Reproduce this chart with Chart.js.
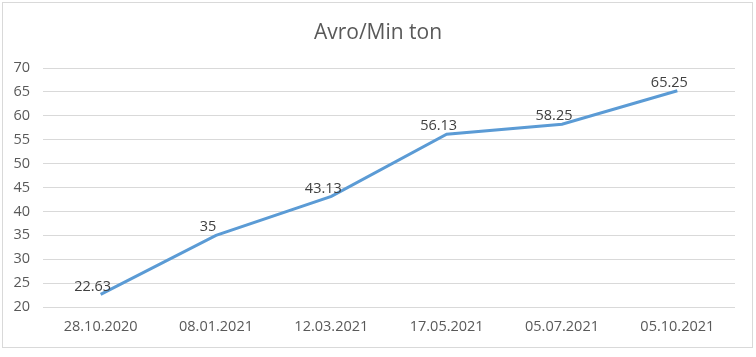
<!DOCTYPE html>
<html><head><meta charset="utf-8">
<script src="https://cdn.jsdelivr.net/npm/chart.js@4"></script>
<style>html,body{margin:0;padding:0;background:#fff;}#wrap{width:756px;height:357px;}</style>
</head><body><div id="wrap"><canvas id="c" width="756" height="357"></canvas></div>
<script>
const categories = ["28.10.2020","08.01.2021","12.03.2021","17.05.2021","05.07.2021","05.10.2021"];
const values = [22.63, 35, 43.13, 56.13, 58.25, 65.25];
const valueLabels = ["22.63","35","43.13","56.13","58.25","65.25"];
const chartTitle = "Avro/Min ton";
const FONT = "'Open Sans', 'Noto Sans', sans-serif";

const frame = {
  id:'frame',
  beforeDraw(chart){
    const ctx = chart.ctx;
    ctx.save();
    ctx.fillStyle='#fff';
    ctx.fillRect(0,0,chart.width,chart.height);
    ctx.strokeStyle='#d9d9d9';
    ctx.lineWidth=1;
    ctx.strokeRect(2.5,2.5,750,345);
    ctx.font="21px "+FONT;
    ctx.fillStyle='#595959';
    ctx.textAlign='center';
    ctx.textBaseline='middle';
    ctx.fillText(chartTitle, chart.width/2, 33);
    ctx.restore();
  }
};
const labelsPlugin = {
  id:'vlabels',
  afterDatasetsDraw(chart){
    const ctx=chart.ctx;
    const meta=chart.getDatasetMeta(0);
    ctx.save();
    ctx.font="14.5px "+FONT;
    ctx.fillStyle='#404040';
    ctx.textAlign='center';
    ctx.textBaseline='middle';
    meta.data.forEach((pt,i)=>{
      ctx.fillText(valueLabels[i], pt.x-8, pt.y-8);
    });
    ctx.restore();
  }
};

new Chart(document.getElementById('c'),{
  type:'line',
  data:{labels:categories,datasets:[{data:values,borderColor:'#5B9BD5',borderWidth:3,pointRadius:0,tension:0,fill:false}]},
  options:{
    responsive:false,animation:false,
    layout:{padding:{left:0,right:21,top:68,bottom:0}},
    plugins:{
      legend:{display:false},tooltip:{enabled:false},title:{display:false}
    },
    scales:{
      x:{offset:true,grid:{display:false,drawTicks:false},border:{display:false},
         ticks:{color:'#595959',font:{family:FONT,size:14.5},padding:11,maxRotation:0},
         afterFit(s){s.height=50;}},
      y:{min:20,max:70,grid:{color:'#d9d9d9',drawTicks:false},border:{display:false},
         ticks:{stepSize:5,color:'#595959',font:{family:FONT,size:14.5},padding:13},
         afterFit(s){s.width=43;}}
    }
  },
  plugins:[frame,labelsPlugin]
});
</script></body></html>
